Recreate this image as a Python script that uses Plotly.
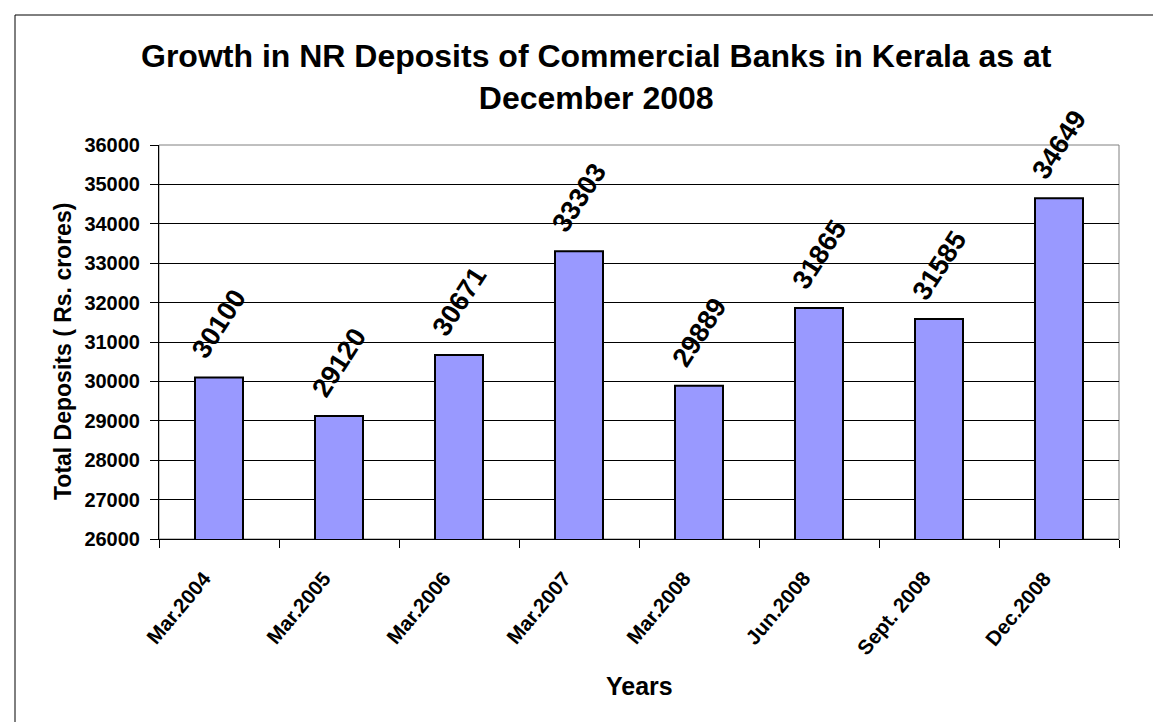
import plotly.graph_objects as go

categories = ["Mar.2004", "Mar.2005", "Mar.2006", "Mar.2007", "Mar.2008",
              "Jun.2008", "Sept. 2008", "Dec.2008"]
deposits = [30100, 29120, 30671, 33303, 29889, 31865, 31585, 34649]
y_ticks = list(range(26000, 36001, 1000))

title_text = "Growth in NR Deposits of Commercial Banks in Kerala as at<br>December 2008"
x_title = "Years"
y_title = "Total Deposits ( Rs. crores)"

FONT = "Liberation Sans, Arial, sans-serif"

W, H = 1161, 722
L, R, T, B = 151, 50, 137, 191
pw, ph = W - L - R, H - T - B


def px_x(px):
    return (px - L) / pw


def px_y(py):
    return (T + ph - py) / ph


fig = go.Figure()
fig.add_trace(go.Bar(
    x=categories, y=deposits,
    marker=dict(color="#9999FF", line=dict(color="black", width=2)),
    hoverinfo="x+y",
))

annotations = []
# value labels above bars
for c, v in zip(categories, deposits):
    annotations.append(dict(
        x=c, y=v, xref="x", yref="y", text=str(v), showarrow=False,
        textangle=-57, xanchor="center", yanchor="middle", yshift=53,
        font=dict(family=FONT, size=27, color="black", weight="bold"),
    ))
# category labels below axis
for c in categories:
    annotations.append(dict(
        x=c, y=0, xref="x", yref="paper", text=c, showarrow=False,
        textangle=-50, xanchor="right", yanchor="top", xshift=-1, yshift=-25,
        font=dict(family=FONT, size=20.5, color="black", weight="bold"),
    ))
# title
annotations.append(dict(
    x=px_x(588), y=px_y(69), xref="paper", yref="paper",
    text=title_text, showarrow=False, xanchor="center", yanchor="middle",
    font=dict(family=FONT, size=32, color="black", weight="bold"),
))
# axis titles
annotations.append(dict(
    x=0.5, y=px_y(678), xref="paper", yref="paper",
    text=x_title, showarrow=False, xanchor="center", yanchor="middle",
    font=dict(family=FONT, size=25, color="black", weight="bold"),
))
annotations.append(dict(
    x=px_x(55), y=px_y(344), xref="paper", yref="paper",
    text=y_title, showarrow=False, textangle=-90, xanchor="center", yanchor="middle",
    font=dict(family=FONT, size=23, color="black", weight="bold"),
))

shapes = [
    dict(type="rect", xref="paper", yref="paper", x0=0, x1=1, y0=0, y1=1,
         line=dict(color="#808080", width=1), layer="below"),
    dict(type="rect", xref="paper", yref="paper",
         x0=px_x(7), x1=px_x(1160), y0=px_y(721), y1=px_y(7),
         line=dict(color="black", width=1), layer="above"),
]

fig.update_layout(
    width=W, height=H,
    margin=dict(l=L, r=R, t=T, b=B, autoexpand=False),
    paper_bgcolor="white", plot_bgcolor="white",
    showlegend=False,
    annotations=annotations,
    shapes=shapes,
    bargap=0.6,
)
fig.update_xaxes(
    type="category", range=[-0.5, len(categories) - 0.5], autorange=False,
    showgrid=False, showline=True, linecolor="black", linewidth=1,
    ticks="outside", tickson="boundaries", ticklen=8, tickcolor="black",
    showticklabels=False,
)
fig.update_yaxes(
    range=[26000, 36000], autorange=False,
    tickvals=y_ticks, ticktext=[str(t) for t in y_ticks],
    showgrid=True, gridcolor="black", gridwidth=1,
    showline=True, linecolor="black", linewidth=1,
    ticks="outside", ticklen=8, tickcolor="black", ticklabelstandoff=6,
    tickfont=dict(family=FONT, size=20, color="black", weight="bold"),
    zeroline=False,
)

fig.write_html("out.html", config={"displayModeBar": False})
